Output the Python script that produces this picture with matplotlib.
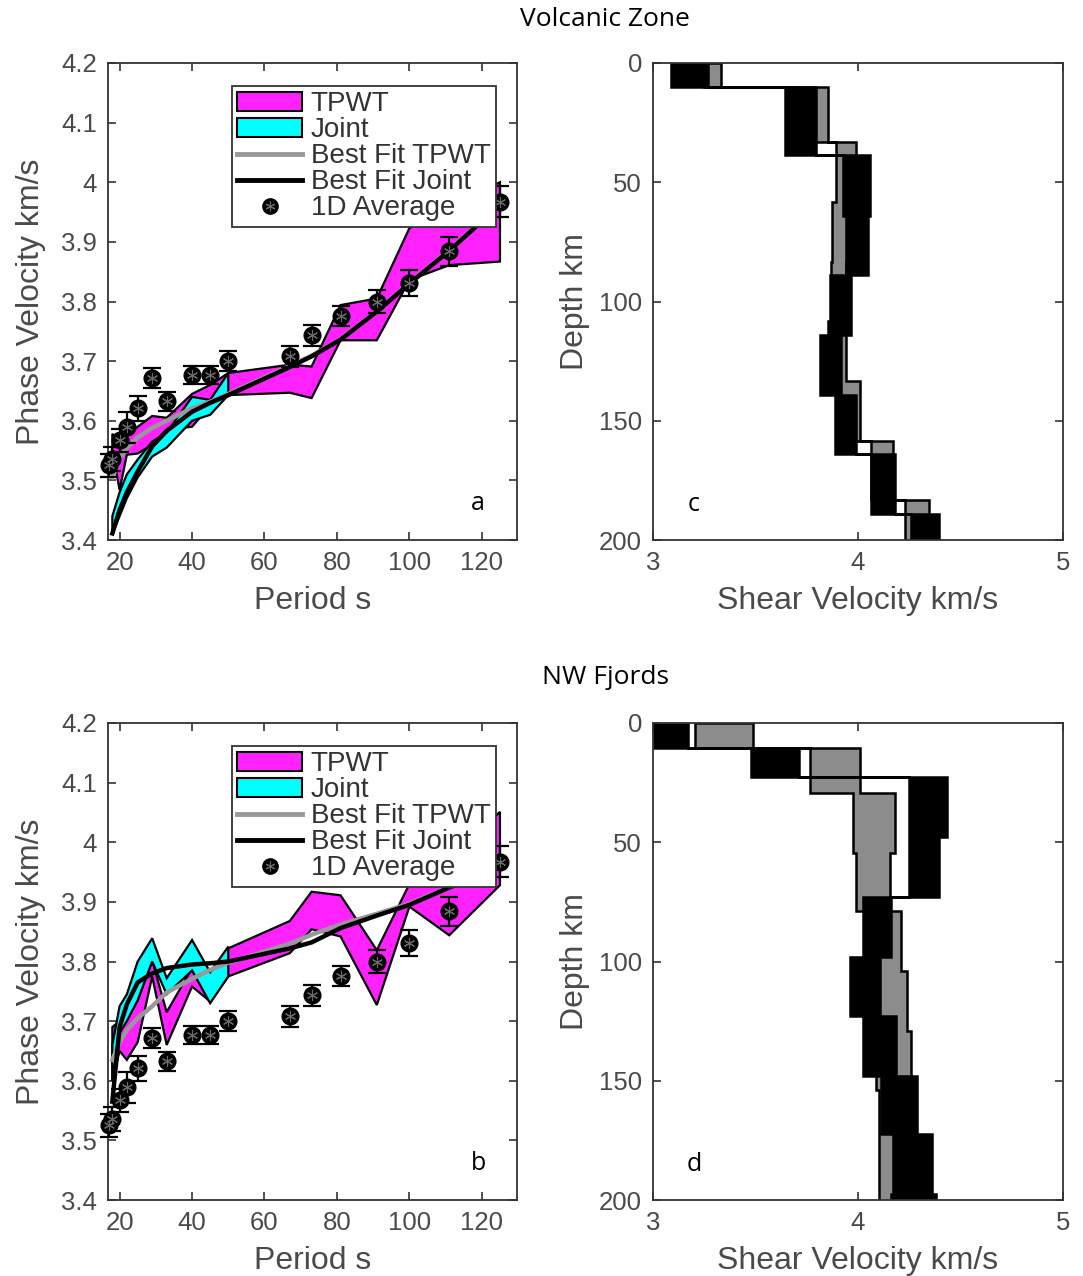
import numpy as np
import matplotlib.pyplot as plt
from matplotlib.patches import Patch
from matplotlib.lines import Line2D
from matplotlib.ticker import FuncFormatter

# ---- phase velocity data ----
avg_periods = [17, 18, 20, 22, 25, 29, 33, 40, 45, 50, 67, 73, 81, 91, 100, 111, 125]
avg_vel = [3.525, 3.536, 3.567, 3.589, 3.621, 3.672, 3.633, 3.677, 3.677, 3.700,
           3.708, 3.743, 3.776, 3.800, 3.831, 3.884, 3.967]
avg_err = [0.02, 0.02, 0.02, 0.026, 0.021, 0.017, 0.016, 0.015, 0.015, 0.017,
           0.018, 0.018, 0.017, 0.02, 0.021, 0.024, 0.026]

periods = [18, 20, 22, 25, 29, 33, 40, 45, 50, 67, 73, 81, 91, 100, 111, 125]
joint_periods = [18, 20, 22, 25, 29, 33, 40, 45, 50]

# volcanic zone (a)
tpwt_hi_a = [3.578, 3.565, 3.575, 3.59, 3.608, 3.605, 3.645, 3.66, 3.68, 3.694, 3.691, 3.794, 3.805, 3.923, 3.96, 4.0]
tpwt_lo_a = [3.55, 3.484, 3.543, 3.545, 3.56, 3.585, 3.59, 3.625, 3.643, 3.647, 3.638, 3.735, 3.735, 3.836, 3.861, 3.867]
joint_hi_a = [3.44, 3.48, 3.51, 3.535, 3.565, 3.58, 3.64, 3.635, 3.68]
joint_lo_a = [3.41, 3.44, 3.47, 3.505, 3.54, 3.555, 3.60, 3.61, 3.643]
fit_tpwt_a = [3.505, 3.535, 3.555, 3.572, 3.588, 3.60, 3.621, 3.632, 3.645, 3.692, 3.709, 3.737, 3.784, 3.831, 3.886, 3.963]
fit_joint_a = [3.411, 3.45, 3.48, 3.515, 3.557, 3.583, 3.615, 3.63, 3.643, 3.69, 3.708, 3.736, 3.783, 3.83, 3.885, 3.962]

# NW fjords (b)
tpwt_hi_b = [3.69, 3.70, 3.705, 3.735, 3.802, 3.715, 3.789, 3.745, 3.822, 3.868, 3.917, 3.911, 3.819, 3.93, 3.97, 4.051]
tpwt_lo_b = [3.60, 3.65, 3.635, 3.665, 3.775, 3.66, 3.758, 3.733, 3.775, 3.814, 3.854, 3.842, 3.727, 3.892, 3.844, 3.928]
joint_hi_b = [3.66, 3.725, 3.745, 3.80, 3.839, 3.772, 3.836, 3.782, 3.825]
joint_lo_b = [3.60, 3.68, 3.70, 3.735, 3.80, 3.745, 3.785, 3.73, 3.775]
fit_tpwt_b = [3.635, 3.665, 3.685, 3.705, 3.725, 3.748, 3.771, 3.786, 3.798, 3.83, 3.845, 3.862, 3.88, 3.897, 3.925, 3.96]
fit_joint_b = [3.565, 3.69, 3.728, 3.765, 3.78, 3.789, 3.795, 3.797, 3.80, 3.822, 3.832, 3.856, 3.877, 3.895, 3.924, 3.96]

# ---- shear velocity layer ranges ----
# volcanic zone (c)
z_tpwt_c = [0, 10, 33.3, 58.3, 83.3, 108.3, 133.3, 158.3, 183.3, 208.3]
vmin_tpwt_c = [3.25, 3.70, 3.894, 3.875, 3.867, 3.855, 3.90, 4.065, 4.228]
vmax_tpwt_c = [3.33, 3.854, 3.99, 3.96, 3.943, 3.94, 4.01, 4.17, 4.345]
z_joint_c = [0, 10, 38.5, 64, 89, 114, 139, 164, 189, 214]
vmin_joint_c = [3.086, 3.642, 3.927, 3.94, 3.862, 3.816, 3.889, 4.065, 4.26]
vmax_joint_c = [3.268, 3.797, 4.057, 4.049, 3.967, 3.919, 3.992, 4.182, 4.395]

# NW fjords (d)
z_tpwt_d = [0, 10.5, 29.4, 54.7, 79, 104, 129, 154, 179, 204]
vmin_tpwt_d = [3.203, 3.764, 3.976, 3.989, 4.03, 4.06, 4.09, 4.102, 4.102]
vmax_tpwt_d = [3.488, 4.008, 4.179, 4.154, 4.211, 4.239, 4.26, 4.25, 4.2]
z_joint_d = [0, 10.5, 22.7, 48, 73, 98, 123, 148, 172.5, 197.5, 222]
vmin_joint_d = [2.98, 3.476, 4.249, 4.249, 4.024, 3.959, 4.024, 4.114, 4.171, 4.163]
vmax_joint_d = [3.171, 3.712, 4.436, 4.395, 4.163, 4.106, 4.184, 4.288, 4.363, 4.379]

MAGENTA = '#ff22ff'
CYAN = '#00ffff'
GRAYLINE = '#999999'
GRAYFILL = '#8c8c8c'
TXT = '#4a4a4a'
ASTER = (6, 2, 0)   # asterisk marker

plt.rcParams['font.family'] = ['Liberation Sans', 'DejaVu Sans']


def style_axes(ax):
    ax.tick_params(direction='in', top=True, right=True, length=6, width=1.2,
                   labelsize=18.5, colors='#333333', labelcolor=TXT, pad=8)
    for s in ax.spines.values():
        s.set_color('#333333')
        s.set_linewidth(1.3)


def band(ax, p, lo, hi, color):
    x = np.r_[p, p[::-1]]
    y = np.r_[lo, hi[::-1]]
    ax.fill(x, y, facecolor=color, edgecolor='k', lw=1.6, zorder=2)


def layers(ax, z, vmin, vmax, color):
    z = np.asarray(z, float)
    ys = np.column_stack([z[:-1], z[1:]]).ravel()
    xl = np.repeat(vmin, 2)
    xr = np.repeat(vmax, 2)
    ax.fill(np.r_[xl, xr[::-1]], np.r_[ys, ys[::-1]], facecolor=color,
            edgecolor='k', lw=1.8)


def phase_panel(ax, tlo, thi, jlo, jhi, ftp, fjt, letter):
    p = np.array(periods)
    jp = np.array(joint_periods)
    band(ax, p, np.array(tlo), np.array(thi), MAGENTA)
    band(ax, jp, np.array(jlo), np.array(jhi), CYAN)
    ax.plot(p, ftp, color=GRAYLINE, lw=3.2, zorder=3)
    ax.plot(p, fjt, color='k', lw=3.2, zorder=3)
    ax.errorbar(avg_periods, avg_vel, yerr=avg_err, fmt='o', color='k', mfc='k',
                ms=12, capsize=6.5, elinewidth=1.6, capthick=1.6, zorder=4, clip_on=False)
    ax.plot(avg_periods, avg_vel, ls='none', marker=ASTER, color='#6a6a6a', ms=8,
            mew=0.8, zorder=5, clip_on=False)
    ax.set_xlim(16.8, 129.7)
    ax.set_ylim(3.4, 4.2)
    ax.set_xticks([20, 40, 60, 80, 100, 120])
    ax.set_yticks(np.round(np.arange(3.4, 4.21, 0.1), 1))
    ax.yaxis.set_major_formatter(FuncFormatter(lambda v, pos: '%g' % v))
    ax.set_xlabel('Period s', fontsize=23, color=TXT, labelpad=8)
    ax.set_ylabel('Phase Velocity km/s', fontsize=23, color=TXT, labelpad=11)
    ax.text(119, 3.462, letter, fontsize=18, family='Open Sans', ha='center', va='center')
    style_axes(ax)

    handles = [Patch(facecolor=MAGENTA, edgecolor='k', lw=1.5),
               Patch(facecolor=CYAN, edgecolor='k', lw=1.5),
               Line2D([], [], color=GRAYLINE, lw=3.5),
               Line2D([], [], color='k', lw=3.5),
               (Line2D([], [], marker='o', ls='none', color='k', ms=11),
                Line2D([], [], marker=ASTER, ls='none', color='#6a6a6a', ms=7, mew=0.8))]
    leg = ax.legend(handles, ['TPWT', 'Joint', 'Best Fit TPWT', 'Best Fit Joint', '1D Average'],
                    loc='upper right', bbox_to_anchor=(0.949, 0.952), fontsize=20,
                    labelspacing=0.0, handlelength=2.35, handletextpad=0.3,
                    borderpad=0.2, borderaxespad=0, fancybox=False, framealpha=1)
    leg.get_frame().set_edgecolor('#333333')
    leg.get_frame().set_linewidth(1.3)
    leg.set_zorder(10)
    for t in leg.get_texts():
        t.set_color('#333333')


def shear_panel(ax, zt, tmin, tmax, zj, jmin, jmax, letter):
    layers(ax, zt, tmin, tmax, GRAYFILL)
    layers(ax, zj, jmin, jmax, 'k')
    ax.set_xlim(3, 5)
    ax.set_ylim(200, 0)
    ax.set_xticks([3, 4, 5])
    ax.set_yticks([0, 50, 100, 150, 200])
    ax.set_xlabel('Shear Velocity km/s', fontsize=23, color=TXT, labelpad=8)
    ax.set_ylabel('Depth km', fontsize=23, color=TXT, labelpad=6)
    ax.text(3.2, 185, letter, fontsize=18, family='Open Sans', ha='center', va='center')
    style_axes(ax)


fig = plt.figure(figsize=(10.83, 12.76), dpi=100)
W, H = 1083.0, 1276.0


def add_ax(x0, y0, x1, y1):
    return fig.add_axes([x0 / W, 1 - y1 / H, (x1 - x0) / W, (y1 - y0) / H])


ax_a = add_ax(108, 63, 517, 540)
ax_c = add_ax(653, 63, 1063, 540)
ax_b = add_ax(108, 723, 517, 1200)
ax_d = add_ax(653, 723, 1063, 1200)

phase_panel(ax_a, tpwt_lo_a, tpwt_hi_a, joint_lo_a, joint_hi_a, fit_tpwt_a, fit_joint_a, 'a')
phase_panel(ax_b, tpwt_lo_b, tpwt_hi_b, joint_lo_b, joint_hi_b, fit_tpwt_b, fit_joint_b, 'b')
shear_panel(ax_c, z_tpwt_c, vmin_tpwt_c, vmax_tpwt_c, z_joint_c, vmin_joint_c, vmax_joint_c, 'c')
shear_panel(ax_d, z_tpwt_d, vmin_tpwt_d, vmax_tpwt_d, z_joint_d, vmin_joint_d, vmax_joint_d, 'd')

fig.text(605 / W, 1 - 20 / H, 'Volcanic Zone', fontsize=19, family='Open Sans', ha='center', va='center')
fig.text(605 / W, 1 - 677 / H, 'NW Fjords', fontsize=19, family='Open Sans', ha='center', va='center')

fig.savefig('out.png', dpi=100)
